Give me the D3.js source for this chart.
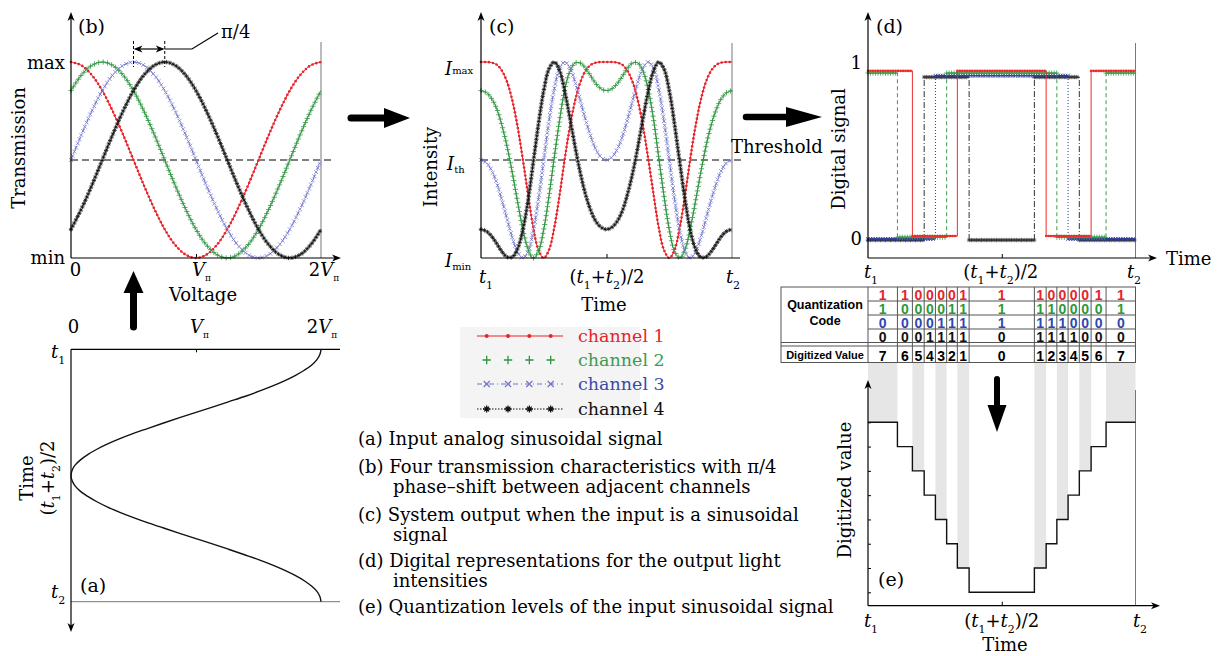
<!DOCTYPE html>
<html>
<head>
<meta charset="utf-8">
<script src="https://cdn.jsdelivr.net/npm/d3@7"></script>
<style>
  body { margin: 0; background: #fff; }
  svg { display: block; }
  text { font-family: "DejaVu Serif", "Liberation Serif", serif; fill: #000; }
  text.sans { font-family: "Liberation Sans", Arial, sans-serif; font-weight: bold; }
</style>
</head>
<body>
<svg id="fig" width="1228" height="656"></svg>
<script>
// ---- data ----
// (b) transmission vs voltage (voltage in units of V_pi)
const voltage = [0, .083, .167, .25, .333, .417, .5, .583, .667, .75, .833, .917, 1,
  1.083, 1.167, 1.25, 1.333, 1.417, 1.5, 1.583, 1.667, 1.75, 1.833, 1.917, 2];
const transCh1 = [1, .983, .933, .854, .75, .629, .5, .371, .25, .146, .067, .017, 0, .017, .067, .146, .25, .371, .5, .629, .75, .854, .933, .983, 1];
const transCh2 = [.854, .933, .983, 1, .983, .933, .854, .75, .629, .5, .371, .25, .146, .067, .017, 0, .017, .067, .146, .25, .371, .5, .629, .75, .854];
const transCh3 = [.5, .629, .75, .854, .933, .983, 1, .983, .933, .854, .75, .629, .5, .371, .25, .146, .067, .017, 0, .017, .067, .146, .25, .371, .5];
const transCh4 = [.146, .25, .371, .5, .629, .75, .854, .933, .983, 1, .983, .933, .854, .75, .629, .5, .371, .25, .146, .067, .017, 0, .017, .067, .146];

// (a) input voltage vs time, (c) output intensity vs time (t1 = 0, t2 = 1)
const time = [0, .021, .042, .063, .083, .104, .125, .146, .167, .188, .208, .229, .25, .271, .292, .313, .333, .354, .375, .396, .417, .438, .458, .479, .5,
  .521, .542, .563, .583, .604, .625, .646, .667, .688, .708, .729, .75, .771, .792, .813, .833, .854, .875, .896, .917, .938, .958, .979, 1];
const inputVoltage = [2, 1.991, 1.966, 1.924, 1.866, 1.793, 1.707, 1.609, 1.5, 1.383, 1.259, 1.131, 1, .869, .741, .617, .5, .391, .293, .207, .134, .076, .034, .009, 0,
  .009, .034, .076, .134, .207, .293, .391, .5, .617, .741, .869, 1, 1.131, 1.259, 1.383, 1.5, 1.609, 1.707, 1.793, 1.866, 1.924, 1.966, 1.991, 2];
const intenCh1 = [1, 1, .997, .986, .956, .898, .803, .668, .5, .32, .156, .041, 0, .041, .156, .32, .5, .668, .803, .898, .956, .986, .997, 1, 1,
  1, .997, .986, .956, .898, .803, .668, .5, .32, .156, .041, 0, .041, .156, .32, .5, .668, .803, .898, .956, .986, .997, 1, 1];
const intenCh2 = [.854, .844, .814, .76, .678, .568, .433, .285, .146, .043, 0, .035, .146, .317, .514, .702, .854, .952, .995, .995, .967, .927, .889, .863, .854,
  .863, .889, .927, .967, .995, .995, .952, .854, .702, .514, .317, .146, .035, 0, .043, .146, .285, .433, .568, .678, .76, .814, .844, .854];
const intenCh3 = [.5, .487, .447, .382, .296, .198, .102, .029, 0, .034, .137, .301, .5, .699, .863, .966, 1, .971, .898, .802, .704, .618, .553, .513, .5,
  .513, .553, .618, .704, .802, .898, .971, 1, .966, .863, .699, .5, .301, .137, .034, 0, .029, .102, .198, .296, .382, .447, .487, .5];
const intenCh4 = [.146, .137, .111, .073, .033, .005, .005, .048, .146, .298, .486, .683, .854, .965, 1, .957, .854, .715, .567, .432, .322, .24, .186, .156, .146,
  .156, .186, .24, .322, .432, .567, .715, .854, .957, 1, .965, .854, .683, .486, .298, .146, .048, .005, .005, .033, .073, .111, .137, .146];
const threshold = 0.5;

// (d), table, (e): time intervals between threshold crossings
const boundaries = [0, .11, .166, .21, .252, .294, .334, .378, .622, .666, .706, .748, .79, .834, .89, 1];
const digitized = [7, 6, 5, 4, 3, 2, 1, 0, 1, 2, 3, 4, 5, 6, 7];
const codeCh1 = [1, 1, 0, 0, 0, 0, 1, 1, 1, 0, 0, 0, 0, 1, 1];
const codeCh2 = [1, 0, 0, 0, 0, 1, 1, 1, 1, 1, 0, 0, 0, 0, 1];
const codeCh3 = [0, 0, 0, 0, 1, 1, 1, 1, 1, 1, 1, 0, 0, 0, 0];
const codeCh4 = [0, 0, 0, 1, 1, 1, 1, 0, 1, 1, 1, 1, 0, 0, 0];
const digitalHigh = [.955, .943, .928, .92];
const digitalLow = [.017, .01, 0, -.006];

const channelNames = ["channel 1", "channel 2", "channel 3", "channel 4"];

// tick labels (parts: t = text, i = italic, sub = baseline shift, fs = font size)
const voltTicks = [0, 1, 2];
const voltTickLabels = [
  [{ t: "0" }],
  [{ t: "V", i: 1 }, { t: "π", sub: 5, fs: 9 }],
  [{ t: "2" }, { t: "V", i: 1 }, { t: "π", sub: 5, fs: 9 }]
];
const timeTicks = [0, .5, 1];
const T1 = [{ t: "t", i: 1 }, { t: "1", sub: 6, fs: 11 }];
const T2 = [{ t: "t", i: 1 }, { t: "2", sub: 6, fs: 11 }];
const MID = [{ t: "(" }, { t: "t", i: 1 }, { t: "1", sub: 6, fs: 11 }, { t: "+" }, { t: "t", i: 1 }, { t: "2", sub: 6, fs: 11 }, { t: ")/2" }];
const timeTickLabels = [T1, MID, T2];

const captions = [
  ["(a) Input analog sinusoidal signal"],
  ["(b) Four transmission characteristics with π/4", "phase–shift between adjacent channels"],
  ["(c) System output when the input is a sinusoidal", "signal"],
  ["(d) Digital representations for the output light", "intensities"],
  ["(e) Quantization levels of the input sinusoidal signal"]
];

// ---- styles ----
const chStyle = [
  { color: "#e8232a", dash: null, mark: "dot", step: 4, dDash: null, dColor: "#ee2b2b", text: "#e8232a" },
  { color: "#2e9440", dash: null, mark: "plus", step: 4.5, dDash: "4,3", dColor: "#3a9c48", text: "#3f9a4f" },
  { color: "#7377cc", dash: "5,2,1,2", mark: "cross", step: 4.5, dDash: "1,2", dColor: "#2d3a9a", text: "#3b49a8" },
  { color: "#111", dash: "1.5,1.5", mark: "star", step: 3.6, dDash: "6,2,1,2", dColor: "#333", text: "#111" }
];
const shapes = {
  plus: "M-2.6,0H2.6M0,-2.6V2.6",
  cross: "M-1.9,-1.9L1.9,1.9M-1.9,1.9L1.9,-1.9",
  star: "M-2.2,0H2.2M0,-2.2V2.2M-1.5,-1.5L1.5,1.5M-1.5,1.5L1.5,-1.5"
};

const svg = d3.select("#fig");

function txt(g, x, y, parts, o = {}) {
  const t = g.append("text").attr("x", x).attr("y", y)
    .attr("font-size", o.size || 18)
    .attr("text-anchor", o.anchor || "start");
  if (o.fill) t.style("fill", o.fill);
  if (o.cls) t.attr("class", o.cls);
  if (o.rotate) t.attr("transform", `rotate(-90 ${x} ${y})`);
  if (typeof parts === "string") { t.text(parts); return t; }
  let shift = 0;
  parts.forEach(p => {
    const s = t.append("tspan").text(p.t);
    if (p.i) s.attr("font-style", "italic");
    if (p.fs) s.attr("font-size", p.fs);
    const d = p.sub || 0;
    if (d !== shift) { s.attr("dy", d - shift); shift = d; }
  });
  return t;
}

function line(g, x1, y1, x2, y2, w = 1.2, color = "#000", dash = null) {
  const l = g.append("line").attr("x1", x1).attr("y1", y1).attr("x2", x2).attr("y2", y2)
    .attr("stroke", color).attr("stroke-width", w);
  if (dash) l.attr("stroke-dasharray", dash);
  return l;
}

// small axis arrow tip; angle 0 = right
function tip(g, x, y, angle) {
  g.append("path").attr("d", "M0,0L-9,-3.5L-6.5,0L-9,3.5Z")
    .attr("transform", `translate(${x},${y}) rotate(${angle})`).attr("fill", "#000");
}

function bigArrow(g, x1, y1, x2, y2, headLen, half, w) {
  const a = Math.atan2(y2 - y1, x2 - x1), c = Math.cos(a), s = Math.sin(a);
  const bx = x2 - c * headLen, by = y2 - s * headLen;
  g.append("line").attr("x1", x1).attr("y1", y1).attr("x2", bx + c * 2).attr("y2", by + s * 2)
    .attr("stroke", "#000").attr("stroke-width", w).attr("stroke-linecap", "round");
  g.append("path").attr("d",
    `M${x2},${y2}L${bx - s * half},${by + c * half}L${bx + s * half},${by - c * half}Z`).attr("fill", "#000");
}

function sprinkle(g, node, st, color) {
  const L = node.getTotalLength();
  const col = color || st.color;
  const gm = g.append("g");
  if (st.mark === "dot") gm.attr("fill", col);
  else gm.attr("fill", "none").attr("stroke", col).attr("stroke-width", 0.8);
  for (let l = 0; l <= L + 0.01; l += st.step) {
    const p = node.getPointAtLength(l);
    if (st.mark === "dot") gm.append("circle").attr("cx", p.x).attr("cy", p.y).attr("r", 1.3);
    else gm.append("path").attr("d", shapes[st.mark]).attr("transform", `translate(${p.x},${p.y})`);
  }
}

function noDomain(g) { g.select(".domain").remove(); g.selectAll(".tick line").attr("stroke-width", 1); }

// ---------- panel (b) ----------
const gB = svg.append("g");
const xB = d3.scaleLinear().domain([0, 2]).range([71, 321]);
const yB = d3.scaleLinear().domain([0, 1]).range([258, 62]);
line(gB, xB(2), 42, xB(2), yB(0), 0.8, "#555");
line(gB, xB(0), yB(threshold), 333, yB(threshold), 1, "#000", "7,4");
gB.append("g").attr("transform", `translate(0,${yB(0)})`)
  .call(d3.axisBottom(xB).tickValues([1]).tickSize(-4).tickFormat("")).call(noDomain);

const transmission = [transCh1, transCh2, transCh3, transCh4];
const lineB = d3.line().x(d => xB(d[0])).y(d => yB(d[1])).curve(d3.curveCatmullRom.alpha(0.5));
transmission.forEach((vals, k) => {
  const st = chStyle[k];
  const p = gB.append("path").datum(voltage.map((v, i) => [v, vals[i]]))
    .attr("d", lineB).attr("fill", "none").attr("stroke", st.color).attr("stroke-width", 1)
    .attr("stroke-dasharray", st.dash);
  sprinkle(gB, p.node(), st);
});
line(gB, xB(0), yB(0), 338, yB(0));
tip(gB, 341, yB(0), 0);
line(gB, xB(0), yB(0), xB(0), 15);
tip(gB, xB(0), 12, -90);
// pi/4 annotation between the peaks of channels 3 and 4
const peak3 = voltage[transCh3.indexOf(1)], peak4 = voltage[transCh4.indexOf(1)];
line(gB, xB(peak3), 41, xB(peak3), 67, 1, "#000", "3,2");
line(gB, xB(peak4), 41, xB(peak4), 67, 1, "#000", "3,2");
line(gB, xB(peak3) + 4, 49, xB(peak4) - 4, 49, 1.2);
tip(gB, xB(peak4), 49, 0);
tip(gB, xB(peak3), 49, 180);
gB.append("path").attr("d", `M${xB(peak4)},49H192L218,33`).attr("fill", "none").attr("stroke", "#000").attr("stroke-width", 1.2);
txt(gB, 221, 38, "π/4", { size: 18 });
txt(gB, 78, 33, "(b)", { size: 19 });
txt(gB, 65, 69, "max", { anchor: "end" });
txt(gB, 65, 264, "min", { anchor: "end" });
txt(gB, 25, 148, "Transmission", { anchor: "middle", rotate: true });
const voltDx = [4.5, 5.5, 3];
voltTicks.forEach((v, i) => txt(gB, xB(v) + voltDx[i], 276, voltTickLabels[i], { anchor: "middle" }));
txt(gB, 203, 301, "Voltage", { anchor: "middle" });

// ---------- panel (a) ----------
const gA = svg.append("g");
const yA = d3.scaleLinear().domain([0, 1]).range([349.3, 601.7]);
line(gA, xB(0), yA(1), 340, yA(1), 1, "#777");
line(gA, xB(0), yA(0), 340, yA(0), 1.3);
gA.append("g").attr("transform", `translate(0,${yA(0)})`)
  .call(d3.axisTop(xB).tickValues([1]).tickSize(-3).tickFormat("")).call(noDomain);
line(gA, xB(0), yA(0), xB(0), 629);
tip(gA, xB(0), 632, 90);
gA.append("path").datum(time.map((t, i) => [inputVoltage[i], t]))
  .attr("d", d3.line().x(d => xB(d[0])).y(d => yA(d[1])).curve(d3.curveCatmullRom.alpha(0.5)))
  .attr("fill", "none").attr("stroke", "#111").attr("stroke-width", 1.4);
const voltDxA = [2.5, 3.5, 1];
voltTicks.forEach((v, i) => txt(gA, xB(v) + voltDxA[i], 333, voltTickLabels[i], { anchor: "middle" }));
txt(gA, 51, 358, T1);
txt(gA, 51, 598, T2);
txt(gA, 33, 478, "Time", { anchor: "middle", rotate: true });
txt(gA, 54, 478, MID, { anchor: "middle", rotate: true });
txt(gA, 80, 592, "(a)", { size: 19 });

// ---------- panel (c) ----------
const gC = svg.append("g");
const xC = d3.scaleLinear().domain([0, 1]).range([481, 732]);
const yC = d3.scaleLinear().domain([0, 1]).range([258, 62]);
line(gC, xC(1), 43, xC(1), yC(0), 0.8, "#555");
line(gC, xC(0), yC(threshold), 745, yC(threshold), 1, "#000", "7,4");
gC.append("g").attr("transform", `translate(0,${yC(0)})`)
  .call(d3.axisBottom(xC).tickValues([.5]).tickSize(-4).tickFormat("")).call(noDomain);
const intensity = [intenCh1, intenCh2, intenCh3, intenCh4];
const lineC = d3.line().x(d => xC(d[0])).y(d => yC(d[1])).curve(d3.curveCatmullRom.alpha(0.5));
intensity.forEach((vals, k) => {
  const st = chStyle[k];
  const p = gC.append("path").datum(time.map((t, i) => [t, vals[i]]))
    .attr("d", lineC).attr("fill", "none").attr("stroke", st.color).attr("stroke-width", 1)
    .attr("stroke-dasharray", st.dash);
  sprinkle(gC, p.node(), st);
});
line(gC, xC(0), yC(0), 740, yC(0));
line(gC, xC(0), yC(0), xC(0), 15);
tip(gC, xC(0), 12, -90);
txt(gC, 489, 33, "(c)", { size: 19 });
txt(gC, 445, 75, [{ t: "I", i: 1 }, { t: "max", sub: -1, fs: 10 }]);
txt(gC, 447, 170, [{ t: "I", i: 1 }, { t: "th", sub: 3, fs: 10 }]);
txt(gC, 445, 267, [{ t: "I", i: 1 }, { t: "min", sub: 3, fs: 10 }]);
const timeDxC = [5, 0.5, 1];
timeTicks.forEach((v, i) => txt(gC, xC(v) + timeDxC[i], 283, timeTickLabels[i], { anchor: "middle" }));
txt(gC, 604, 311, "Time", { anchor: "middle" });
txt(gC, 437, 167, "Intensity", { anchor: "middle", rotate: true });
txt(gC, 731, 153, "Threshold");

// ---------- panel (d) ----------
const gD = svg.append("g");
const xD = d3.scaleLinear().domain([0, 1]).range([868, 1135.5]);
const yD = d3.scaleLinear().domain([0, 1]).range([239, 63]);
line(gD, xD(1), 43, xD(1), 258, 0.8, "#555");
gD.append("g").attr("transform", "translate(0,258)")
  .call(d3.axisBottom(xD).tickValues([.5]).tickSize(-4).tickFormat("")).call(noDomain);
const codes = [codeCh1, codeCh2, codeCh3, codeCh4];
[3, 2, 1, 0].forEach(k => {
  const code = codes[k], st = chStyle[k];
  const runs = [];
  let start = 0;
  for (let j = 1; j <= code.length; j++) {
    if (j === code.length || code[j] !== code[start]) {
      runs.push({ a: boundaries[start], b: boundaries[j], v: code[start] });
      start = j;
    }
  }
  const lvl = v => yD(v ? digitalHigh[k] : digitalLow[k]);
  runs.slice(1).forEach(r => line(gD, xD(r.a), yD(digitalLow[k]), xD(r.a), yD(digitalHigh[k]), 1, st.dColor, st.dDash));
  runs.forEach(r => {
    const p = gD.append("path").attr("d", `M${xD(r.a)},${lvl(r.v)}H${xD(r.b)}`)
      .attr("stroke", st.dColor).attr("stroke-width", 1.3);
    sprinkle(gD, p.node(), Object.assign({}, st, { step: 2.5 }), st.dColor);
  });
});
line(gD, xD(0), 258, 1154, 258);
tip(gD, 1157, 258, 0);
line(gD, xD(0), 258, xD(0), 15);
tip(gD, xD(0), 12, -90);
txt(gD, 876, 33, "(d)", { size: 19 });
txt(gD, 862, 69, "1", { anchor: "end" });
txt(gD, 862, 245, "0", { anchor: "end" });
txt(gD, 845, 149, "Digital signal", { anchor: "middle", rotate: true });
txt(gD, 1166, 265, "Time");
const timeDxD = [3, -1, -1.5];
timeTicks.forEach((v, i) => txt(gD, xD(v) + timeDxD[i], 278, timeTickLabels[i], { anchor: "middle" }));

// ---------- quantization table ----------
const gT = svg.append("g");
const tabTop = 287, rowLines = [301, 315, 329], codeBottom = 342.5, valTop = 346, tabBottom = 362.5;
const tabLeft = 781;
gT.append("rect").attr("x", tabLeft).attr("y", tabTop).attr("width", xD(1) - tabLeft).attr("height", tabBottom - tabTop)
  .attr("fill", "#fff").attr("stroke", "#555").attr("stroke-width", 1);
rowLines.forEach(y => line(gT, xD(0), y, xD(1), y, 1, "#555"));
line(gT, tabLeft, codeBottom, xD(1), codeBottom, 1, "#555");
line(gT, tabLeft, valTop, xD(1), valTop, 1, "#555");
boundaries.slice(0, -1).forEach(b => line(gT, xD(b), tabTop, xD(b), tabBottom, 1, "#555"));
txt(gT, 825, 309, "Quantization", { anchor: "middle", size: 12.5, cls: "sans" });
txt(gT, 825, 325, "Code", { anchor: "middle", size: 12.5, cls: "sans" });
txt(gT, 825, 358.5, "Digitized Value", { anchor: "middle", size: 11, cls: "sans" });
const codeBase = [299.5, 313.5, 327.5, 341.5];
const tableColors = ["#e8232a", "#2a9a3a", "#2f47b3", "#111"];
digitized.forEach((v, j) => {
  const cx = xD((boundaries[j] + boundaries[j + 1]) / 2);
  codes.forEach((code, k) => txt(gT, cx, codeBase[k], String(code[j]), { anchor: "middle", size: 14, cls: "sans", fill: tableColors[k] }));
  txt(gT, cx, 360.5, String(v), { anchor: "middle", size: 14, cls: "sans" });
});

// ---------- panel (e) ----------
const gE = svg.append("g");
const yE = d3.scaleLinear().domain([0, 7]).range([592.3, 422.3]);
digitized.forEach((v, j) => {
  if (v % 2 === 1) gE.append("rect").attr("x", xD(boundaries[j])).attr("y", tabBottom + 0.5)
    .attr("width", xD(boundaries[j + 1]) - xD(boundaries[j])).attr("height", yE(v) - tabBottom - 0.5)
    .attr("fill", "#e6e6e6");
});
line(gE, xD(1), 390, xD(1), 605.7, 0.8, "#555");
gE.append("g").attr("transform", `translate(${xD(0)},0)`)
  .call(d3.axisRight(yE).tickValues(d3.range(0, 8)).tickSize(3).tickFormat("")).call(noDomain);
gE.append("g").attr("transform", "translate(0,605.7)")
  .call(d3.axisBottom(xD).tickValues([.5]).tickSize(-4).tickFormat("")).call(noDomain);
const stepData = digitized.map((v, j) => [boundaries[j], v]).concat([[1, digitized[digitized.length - 1]]]);
gE.append("path").datum(stepData)
  .attr("d", d3.line().x(d => xD(d[0])).y(d => yE(d[1])).curve(d3.curveStepAfter))
  .attr("fill", "none").attr("stroke", "#111").attr("stroke-width", 1.4);
line(gE, xD(0), 605.7, 1157, 605.7);
tip(gE, 1160, 605.7, 0);
line(gE, xD(0), 605.7, xD(0), 383);
tip(gE, xD(0), 380, -90);
txt(gE, 851, 490, "Digitized value", { anchor: "middle", rotate: true });
txt(gE, 878, 586, "(e)", { size: 19 });
const timeDxE = [3, 0, 4.5];
timeTicks.forEach((v, i) => txt(gE, xD(v) + timeDxE[i], 627, timeTickLabels[i], { anchor: "middle" }));
txt(gE, 1005, 651, "Time", { anchor: "middle" });

// ---------- legend ----------
const gL = svg.append("g");
gL.append("rect").attr("x", 460).attr("y", 327).attr("width", 180).attr("height", 91).attr("fill", "#f4f4f4");
const legRowY = [336, 360, 384, 409];
const legX = d3.scalePoint().domain([0, 1, 2, 3]).range([486.7, 550.7]);
channelNames.forEach((name, k) => {
  const st = chStyle[k], y = legRowY[k];
  if (k !== 1) line(gL, 477, y, 563, y, 1, st.color, k === 2 ? "5,3,1,3" : (k === 3 ? "1.5,1.5" : null));
  legX.domain().forEach(i => {
    const x = legX(i);
    if (st.mark === "dot") gL.append("circle").attr("cx", x).attr("cy", y).attr("r", 2).attr("fill", st.color);
    else gL.append("path").attr("d", shapes[st.mark]).attr("transform", `translate(${x},${y}) scale(1.6)`)
      .attr("fill", "none").attr("stroke", st.color).attr("stroke-width", 0.8);
  });
  txt(gL, 578, y + 6, name, { size: 17.5, fill: st.text });
});

// ---------- captions ----------
const gCap = svg.append("g");
const capBase = [445, 473, 521, 567, 613];
captions.forEach((lines, i) => {
  lines.forEach((s, j) => txt(gCap, j === 0 ? 358 : 393, capBase[i] + j * 20, s, { size: 18 }));
});

// ---------- big flow arrows ----------
const gArr = svg.append("g");
bigArrow(gArr, 351, 118, 410, 118, 26, 10, 7);
bigArrow(gArr, 746, 117, 822, 117, 36, 10, 6.5);
bigArrow(gArr, 133.5, 327, 133.5, 271, 22, 10, 7);
bigArrow(gArr, 997, 379, 997, 432, 27, 9.5, 6);
</script>
</body>
</html>
